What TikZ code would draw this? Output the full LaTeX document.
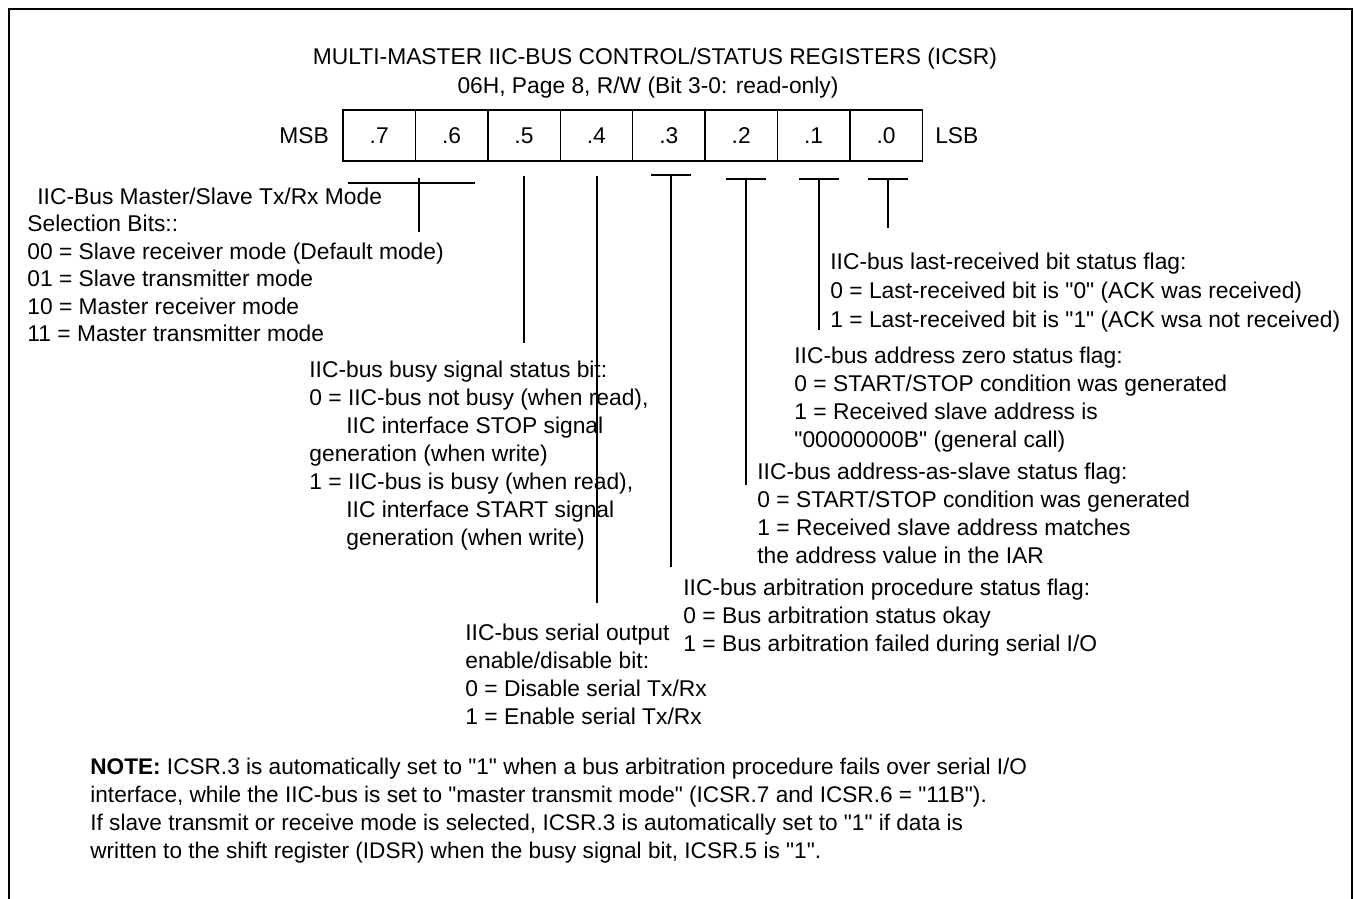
\documentclass[tikz,border=0pt]{standalone}
\usepackage{fontspec}
\setmainfont{Liberation Sans}
\usetikzlibrary{positioning}

\tikzset{
  txt/.style={anchor=north west, align=left, inner sep=0pt, font=\fontsize{11.4}{14}\selectfont},
  head/.style={anchor=base, inner sep=0pt, font=\fontsize{11.4}{14}\selectfont},
  bitcell/.style={draw, line width=0.7pt, minimum width=36.2pt, minimum height=25.5pt, inner sep=0pt, font=\fontsize{11.4}{14}\selectfont},
  lead/.style={line width=0.7pt},
}
\newcommand{\qq}{\textquotedbl}

\begin{document}
\begin{tikzpicture}[x=0.5pt,y=-0.5pt]
    \useasboundingbox (0,0) rectangle (1355,899);
    \draw[line width=1.3pt] (9,899) -- (9,9) -- (1352,9) -- (1352,899);

    % title
    \node[head] (title) at (655,65) {MULTI-MASTER IIC-BUS CONTROL/STATUS REGISTERS (ICSR)};
    \node[head] (sub) at (648,94) {06H, Page 8, R/W (Bit 3-0: read-only)};

    % register
    \foreach \b [count=\i from 0] in {7,6,5,4,3,2,1,0}
        \node[bitcell] (b\b) at (379.2+72.4*\i,135.5) {.\b};
    \node[head, left=6.5pt of b7] (msb) {MSB};
    \node[head, right=6pt of b0] (lsb) {LSB};

    % leads
    \coordinate (top76) at (419,178);
    \coordinate (end76) at (419,232);
    \draw[lead] (348,183) -- (475,183);
    \draw[lead] (top76) -- (end76);
    \foreach \n/\x/\ya/\yb in {5/524/176/343, 4/597/176/603, 3/671/175/567, 2/746/179/485, 1/819/179/330, 0/888/179/228} {
        \coordinate (top\n) at (\x,\ya);
        \coordinate (end\n) at (\x,\yb);
        \draw[lead] (top\n) -- (end\n);
    }
    \foreach \n in {3,2,1,0}
        \draw[lead] ([xshift=-10pt]top\n) -- ([xshift=10pt]top\n);

    % bit descriptions
    \node[txt, font=\fontsize{11.4}{13.7}\selectfont] (mode) at (27,187.5) {\hspace*{5pt}IIC-Bus Master/Slave Tx/Rx Mode\\Selection Bits::\\00 = Slave receiver mode (Default mode)\\01 = Slave transmitter mode\\10 = Master receiver mode\\11 = Master transmitter mode};
    \node[txt] (busy) at (309,360.5) {IIC-bus busy signal status bit:\\0 = IIC-bus not busy (when read),\\\hspace*{18.5pt}IIC interface STOP signal\\generation (when write)\\1 = IIC-bus is busy (when read),\\\hspace*{18.5pt}IIC interface START signal\\\hspace*{18.5pt}generation (when write)};
    \node[txt] (serial) at (465,623.5) {IIC-bus serial output\\enable/disable bit:\\0 = Disable serial Tx/Rx\\1 = Enable serial Tx/Rx};
    \node[txt] (arb) at (683,578.5) {IIC-bus arbitration procedure status flag:\\0 = Bus arbitration status okay\\1 = Bus arbitration failed during serial I/O};
    \node[txt] (aas) at (757,462.5) {IIC-bus address-as-slave status flag:\\0 = START/STOP condition was generated\\1 = Received slave address matches\\the address value in the IAR};
    \node[txt] (adz) at (794,346.5) {IIC-bus address zero status flag:\\0 = START/STOP condition was generated\\1 = Received slave address is\\\qq00000000B\qq{} (general call)};
    \node[txt, font=\fontsize{11.4}{14.5}\selectfont] (lrb) at (830,252.5) {IIC-bus last-received bit status flag:\\0 = Last-received bit is \qq0\qq{} (ACK was received)\\1 = Last-received bit is \qq1\qq{} (ACK wsa not received)};

    % note
    \node[txt, font=\fontsize{11.3}{14}\selectfont] (note) at (90,757.5) {\textbf{NOTE:} ICSR.3 is automatically set to \qq1\qq{} when a bus arbitration procedure fails over serial I/O\\interface, while the IIC-bus is set to \qq master transmit mode\qq{} (ICSR.7 and ICSR.6 = \qq11B\qq).\\If slave transmit or receive mode is selected, ICSR.3 is automatically set to \qq1\qq{} if data is\\written to the shift register (IDSR) when the busy signal bit, ICSR.5 is \qq1\qq.};
\end{tikzpicture}
\end{document}
